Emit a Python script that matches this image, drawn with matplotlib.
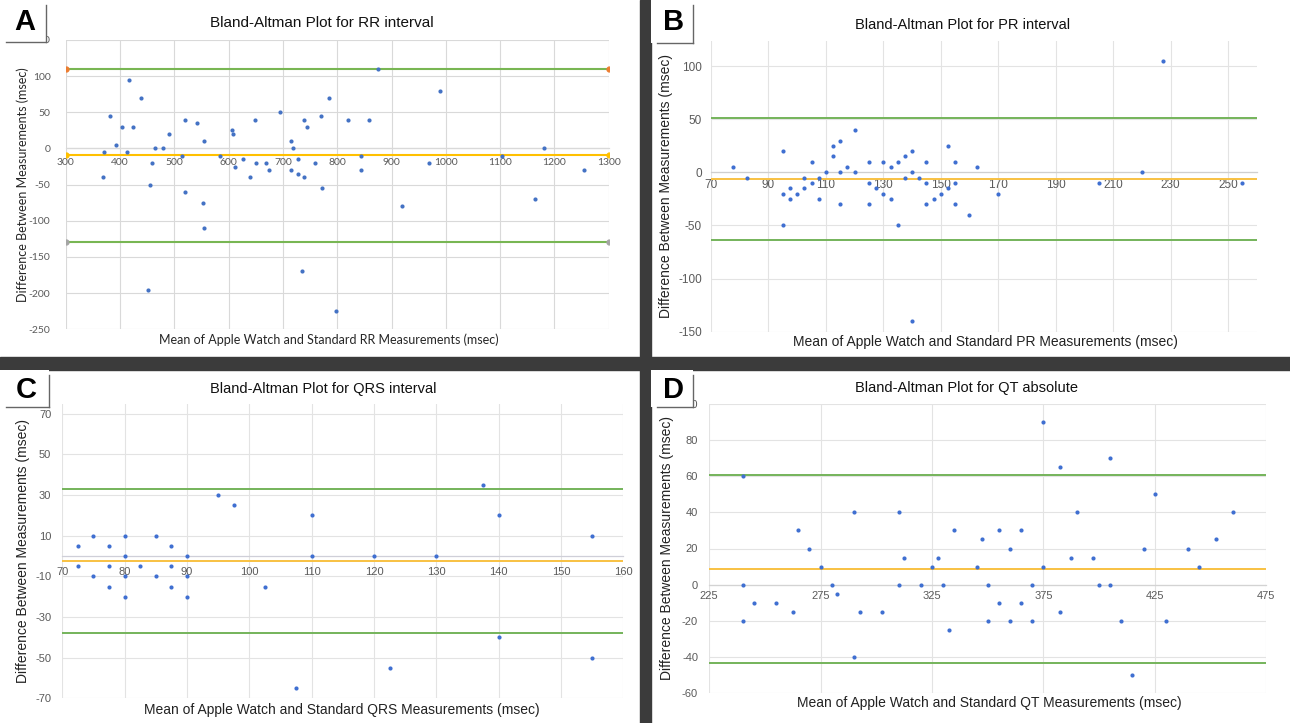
import matplotlib
matplotlib.use("Agg")
import matplotlib.pyplot as plt
from matplotlib.patches import Rectangle
from matplotlib.lines import Line2D

plt.rcParams["axes.unicode_minus"] = False

W, H = 1290, 723

# ---- A: RR interval
rr_mean = [369, 370, 381, 392, 404, 412, 417, 424, 439, 452, 455, 459, 464, 479, 490,
           514, 519, 520, 542, 552, 554, 555, 584, 606, 609, 612, 626, 639, 649, 650,
           669, 674, 695, 714, 714, 719, 727, 727, 735, 739, 739, 744, 759, 771, 772,
           784, 797, 819, 844, 844, 859, 875, 919, 969, 990, 1104, 1165, 1180, 1254]
rr_diff = [-40, -5, 45, 5, 30, -5, 95, 30, 70, -195, -50, -20, 0, 0, 20,
           -10, 40, -60, 35, -75, 10, -110, -10, 25, 20, -25, -15, -40, 40, -20,
           -20, -30, 50, 10, -30, 0, -15, -35, -170, 40, -40, 30, -20, 45, -55,
           70, -225, 40, -10, -30, 40, 110, -80, -20, 80, -10, -70, 0, -30]
rr_lines = [110, -9, -129]          # upper LoA, mean, lower LoA
rr_xticks = list(range(300, 1301, 100))
rr_yticks = list(range(-250, 151, 50))

# ---- B: PR interval
pr_mean = [77.5, 82.5, 95, 95, 95, 97.5, 97.5, 100, 102.5, 102.5, 105, 105, 107.5, 107.5,
           110, 112.5, 112.5, 115, 115, 115, 117.5, 120, 120, 125, 125, 125, 127.5, 130,
           130, 132.5, 132.5, 135, 135, 137.5, 137.5, 140, 140, 140, 142.5, 145, 145, 145,
           147.5, 150, 152.5, 152.5, 155, 155, 155, 160, 162.5, 170, 205, 220, 227.5, 255]
pr_diff = [5, -5, 20, -20, -50, -15, -25, -20, -5, -15, 10, -10, -5, -25,
           0, 25, 15, 30, 0, -30, 5, 40, 0, 10, -10, -30, -15, 10,
           -20, 5, -25, 10, -50, 15, -5, 20, 0, -140, -5, 10, -10, -30,
           -25, -20, 25, -15, 10, -10, -30, -40, 5, -20, -10, 0, 105, -10]
pr_lines = [51.5, -6, -63.5]
pr_xticks = list(range(70, 251, 20))
pr_yticks = list(range(-150, 101, 50))

# ---- C: QRS interval
qrs_mean = [72.5, 72.5, 75, 75, 77.5, 77.5, 77.5, 80, 80, 80, 80, 82.5, 85, 85, 87.5,
            87.5, 87.5, 90, 90, 90, 95, 97.5, 102.5, 107.5, 110, 110, 120, 122.5, 130,
            137.5, 140, 140, 155, 155]
qrs_diff = [5, -5, 10, -10, 5, -5, -15, 10, 0, -10, -20, -5, 10, -10, 5,
            -5, -15, 0, -10, -20, 30, 25, -15, -65, 20, 0, 0, -55, 0,
            35, 20, -40, 10, -50]
qrs_lines = [33, -2.3, -37.8]
qrs_xticks = list(range(70, 161, 10))
qrs_yticks = list(range(-70, 71, 20))

# ---- D: QT absolute
qt_mean = [240, 240, 240, 245, 255, 262.5, 265, 270, 275, 280, 282.5, 290, 290, 292.5,
           302.5, 310, 310, 312.5, 320, 325, 327.5, 330, 332.5, 335, 345, 347.5, 350,
           350, 355, 355, 360, 360, 365, 365, 370, 370, 375, 375, 382.5, 382.5, 387.5,
           390, 397.5, 400, 405, 405, 410, 415, 420, 425, 430, 440, 445, 452.5, 460]
qt_diff = [60, 0, -20, -10, -10, -15, 30, 20, 10, 0, -5, 40, -40, -15,
           -15, 40, 0, 15, 0, 10, 15, 0, -25, 30, 10, 25, 0,
           -20, 30, -10, 20, -20, 30, -10, 0, -20, 90, 10, 65, -15, 15,
           40, 15, 0, 70, 0, -20, -50, 20, 50, -20, 20, 10, 25, 40]
qt_lines = [60.7, 8.5, -43.4]
qt_xticks = list(range(225, 476, 50))
qt_yticks = list(range(-60, 101, 20))

YLABEL = "Difference Between Measurements (msec)"


def px_box(l, t, r, b):
    return [l / W, 1 - b / H, (r - l) / W, (b - t) / H]


def ftext(fig, x, y, s, **kw):
    fig.text(x / W, 1 - y / H, s, **kw)


def style_axes(ax, xticks, yticks, xlim, ylim, font, size, xpad, ypad, grid, zero):
    ax.set_xticks(xticks)
    ax.set_yticks(yticks)
    ax.set_xlim(xlim)
    ax.set_ylim(ylim)
    ax.grid(True, color=grid, linewidth=0.8)
    ax.set_axisbelow(True)
    for s in ["top", "right", "left"]:
        ax.spines[s].set_visible(False)
    ax.spines["bottom"].set_position(("data", 0))
    ax.spines["bottom"].set_color(zero)
    ax.spines["bottom"].set_linewidth(0.9)
    ax.tick_params(length=0, labelsize=size, labelcolor="#5a5a5a")
    ax.tick_params(axis="x", pad=xpad)
    ax.tick_params(axis="y", pad=ypad)
    for lab in ax.get_xticklabels() + ax.get_yticklabels():
        lab.set_fontfamily(font)


def y_title(ax, right_px, left_px, width_px, font, size, color):
    ax.set_ylabel(YLABEL, fontsize=size, fontfamily=font, color=color)
    ax.yaxis.set_label_coords((right_px - left_px) / width_px, 0.5)


fig = plt.figure(figsize=(W / 100, H / 100), dpi=100)
fig.patch.set_facecolor("white")

dot_a = "#4472c4"
dot = "#3f6fd1"
green_a = "#78b653"
green = "#74b35a"
yellow_a = "#ffc000"
yellow = "#f8c142"

# ---------------- A
axA = fig.add_axes(px_box(65.7, 40, 608.7, 329.3))
axA.scatter(rr_mean, rr_diff, s=9, color=dot_a, linewidths=0, zorder=3)
xr = [rr_xticks[0], rr_xticks[-1]]
axA.plot(xr, [rr_lines[0]] * 2, color=green_a, lw=1.5, marker="o", ms=3.5,
         mfc="#ed7d31", mec="#ed7d31", zorder=2)
axA.plot(xr, [rr_lines[1]] * 2, color=yellow_a, lw=1.5, marker="o", ms=3.5,
         mfc=yellow_a, mec=yellow_a, zorder=2)
axA.plot(xr, [rr_lines[2]] * 2, color=green_a, lw=1.5, marker="o", ms=3.5,
         mfc="#a5a5a5", mec="#a5a5a5", zorder=2)
style_axes(axA, rr_xticks, rr_yticks, (300, 1300), (-250, 150), "Lato", 7.5, 6.5, 11,
           "#d9d9d9", "#d9d9d9")
y_title(axA, 29, 65.7, 543, "Lato", 9, "#262626")
ftext(fig, 329, 340, "Mean of Apple Watch and Standard RR Measurements (msec)",
      fontsize=9, family="Lato", color="#262626", ha="center", va="center")
ftext(fig, 322, 23, "Bland-Altman Plot for RR interval", fontsize=11,
      family="Liberation Sans", color="#111111", ha="center", va="center")

# ---------------- B
axB = fig.add_axes(px_box(711, 40.7, 1256.7, 331.7))
axB.scatter(pr_mean, pr_diff, s=9, color=dot, linewidths=0, zorder=3)
for v, c in zip(pr_lines, [green, yellow, green]):
    axB.axhline(v, color=c, lw=1.4, zorder=2)
style_axes(axB, pr_xticks, pr_yticks, (70, 260), (-150, 124), "Liberation Sans", 8.5, 5, 6.5,
           "#e3e3e3", "#cfcfcf")
y_title(axB, 673, 711, 545.7, "Liberation Sans", 10, "#222222")
ftext(fig, 985, 342, "Mean of Apple Watch and Standard PR Measurements (msec)",
      fontsize=10, family="Liberation Sans", color="#222222", ha="center", va="center")
ftext(fig, 963, 25, "Bland-Altman Plot for PR interval", fontsize=10.5,
      family="Liberation Sans", color="#111111", ha="center", va="center")

# ---------------- C
axC = fig.add_axes(px_box(62.3, 404.3, 623.3, 698.3))
axC.scatter(qrs_mean, qrs_diff, s=9, color=dot, linewidths=0, zorder=3)
for v, c in zip(qrs_lines, [green, yellow, green]):
    axC.axhline(v, color=c, lw=1.4, zorder=2)
style_axes(axC, qrs_xticks, qrs_yticks, (70, 160), (-70, 74.7), "Liberation Sans", 8, 8, 8,
           "#e3e3e3", "#cfcfd8")
y_title(axC, 30, 62.3, 561, "Liberation Sans", 10, "#222222")
ftext(fig, 342, 710, "Mean of Apple Watch and Standard QRS Measurements (msec)",
      fontsize=10, family="Liberation Sans", color="#222222", ha="center", va="center")
ftext(fig, 323, 389, "Bland-Altman Plot for QRS interval", fontsize=10.5,
      family="Liberation Sans", color="#111111", ha="center", va="center")

# ---------------- D
axD = fig.add_axes(px_box(709.2, 404.3, 1266.1, 692.7))
axD.scatter(qt_mean, qt_diff, s=9, color=dot, linewidths=0, zorder=3)
for v, c in zip(qt_lines, [green, yellow, green]):
    axD.axhline(v, color=c, lw=1.4, zorder=2)
style_axes(axD, qt_xticks, qt_yticks, (225, 475), (-60, 100), "Liberation Sans", 8, 4.5, 8,
           "#e3e3e3", "#d3d3d3")
y_title(axD, 674, 709.2, 556.9, "Liberation Sans", 10, "#222222")
ftext(fig, 989, 703, "Mean of Apple Watch and Standard QT Measurements (msec)",
      fontsize=10, family="Liberation Sans", color="#222222", ha="center", va="center")
ftext(fig, 967, 388, "Bland-Altman Plot for QT absolute", fontsize=10.5,
      family="Liberation Sans", color="#111111", ha="center", va="center")

# ---------------- separators and panel letters
bar = "#3b3b3b"
fig.add_artist(Rectangle((640 / W, 0), 11 / W, 1, transform=fig.transFigure,
                         color=bar, zorder=5))
fig.add_artist(Rectangle((0, 1 - 370 / H), 1, 13 / H, transform=fig.transFigure,
                         color=bar, zorder=5))

boxes = [("A", 0, 0, 46, 42), ("B", 651, 0, 693, 43),
         ("C", 0, 370, 49, 407), ("D", 651, 370, 693, 407)]
for letter, l, t, r, b in boxes:
    fig.add_artist(Rectangle((l / W, 1 - b / H), (r - l) / W, (b - t) / H,
                             transform=fig.transFigure, facecolor="white",
                             edgecolor="none", zorder=6))
    fig.add_artist(Line2D([r / W, r / W], [1 - (t + 5) / H, 1 - b / H],
                          transform=fig.transFigure, color="#666666", lw=1, zorder=7))
    fig.add_artist(Line2D([(l + 6) / W, r / W], [1 - b / H, 1 - b / H],
                          transform=fig.transFigure, color="#666666", lw=1, zorder=7))
    ftext(fig, (l + r) / 2 + 2, (t + b) / 2 + 1, letter, fontsize=21, fontweight="bold",
          family="Liberation Sans", color="black", ha="center", va="center", zorder=8)

fig.savefig("out.png", dpi=100)
